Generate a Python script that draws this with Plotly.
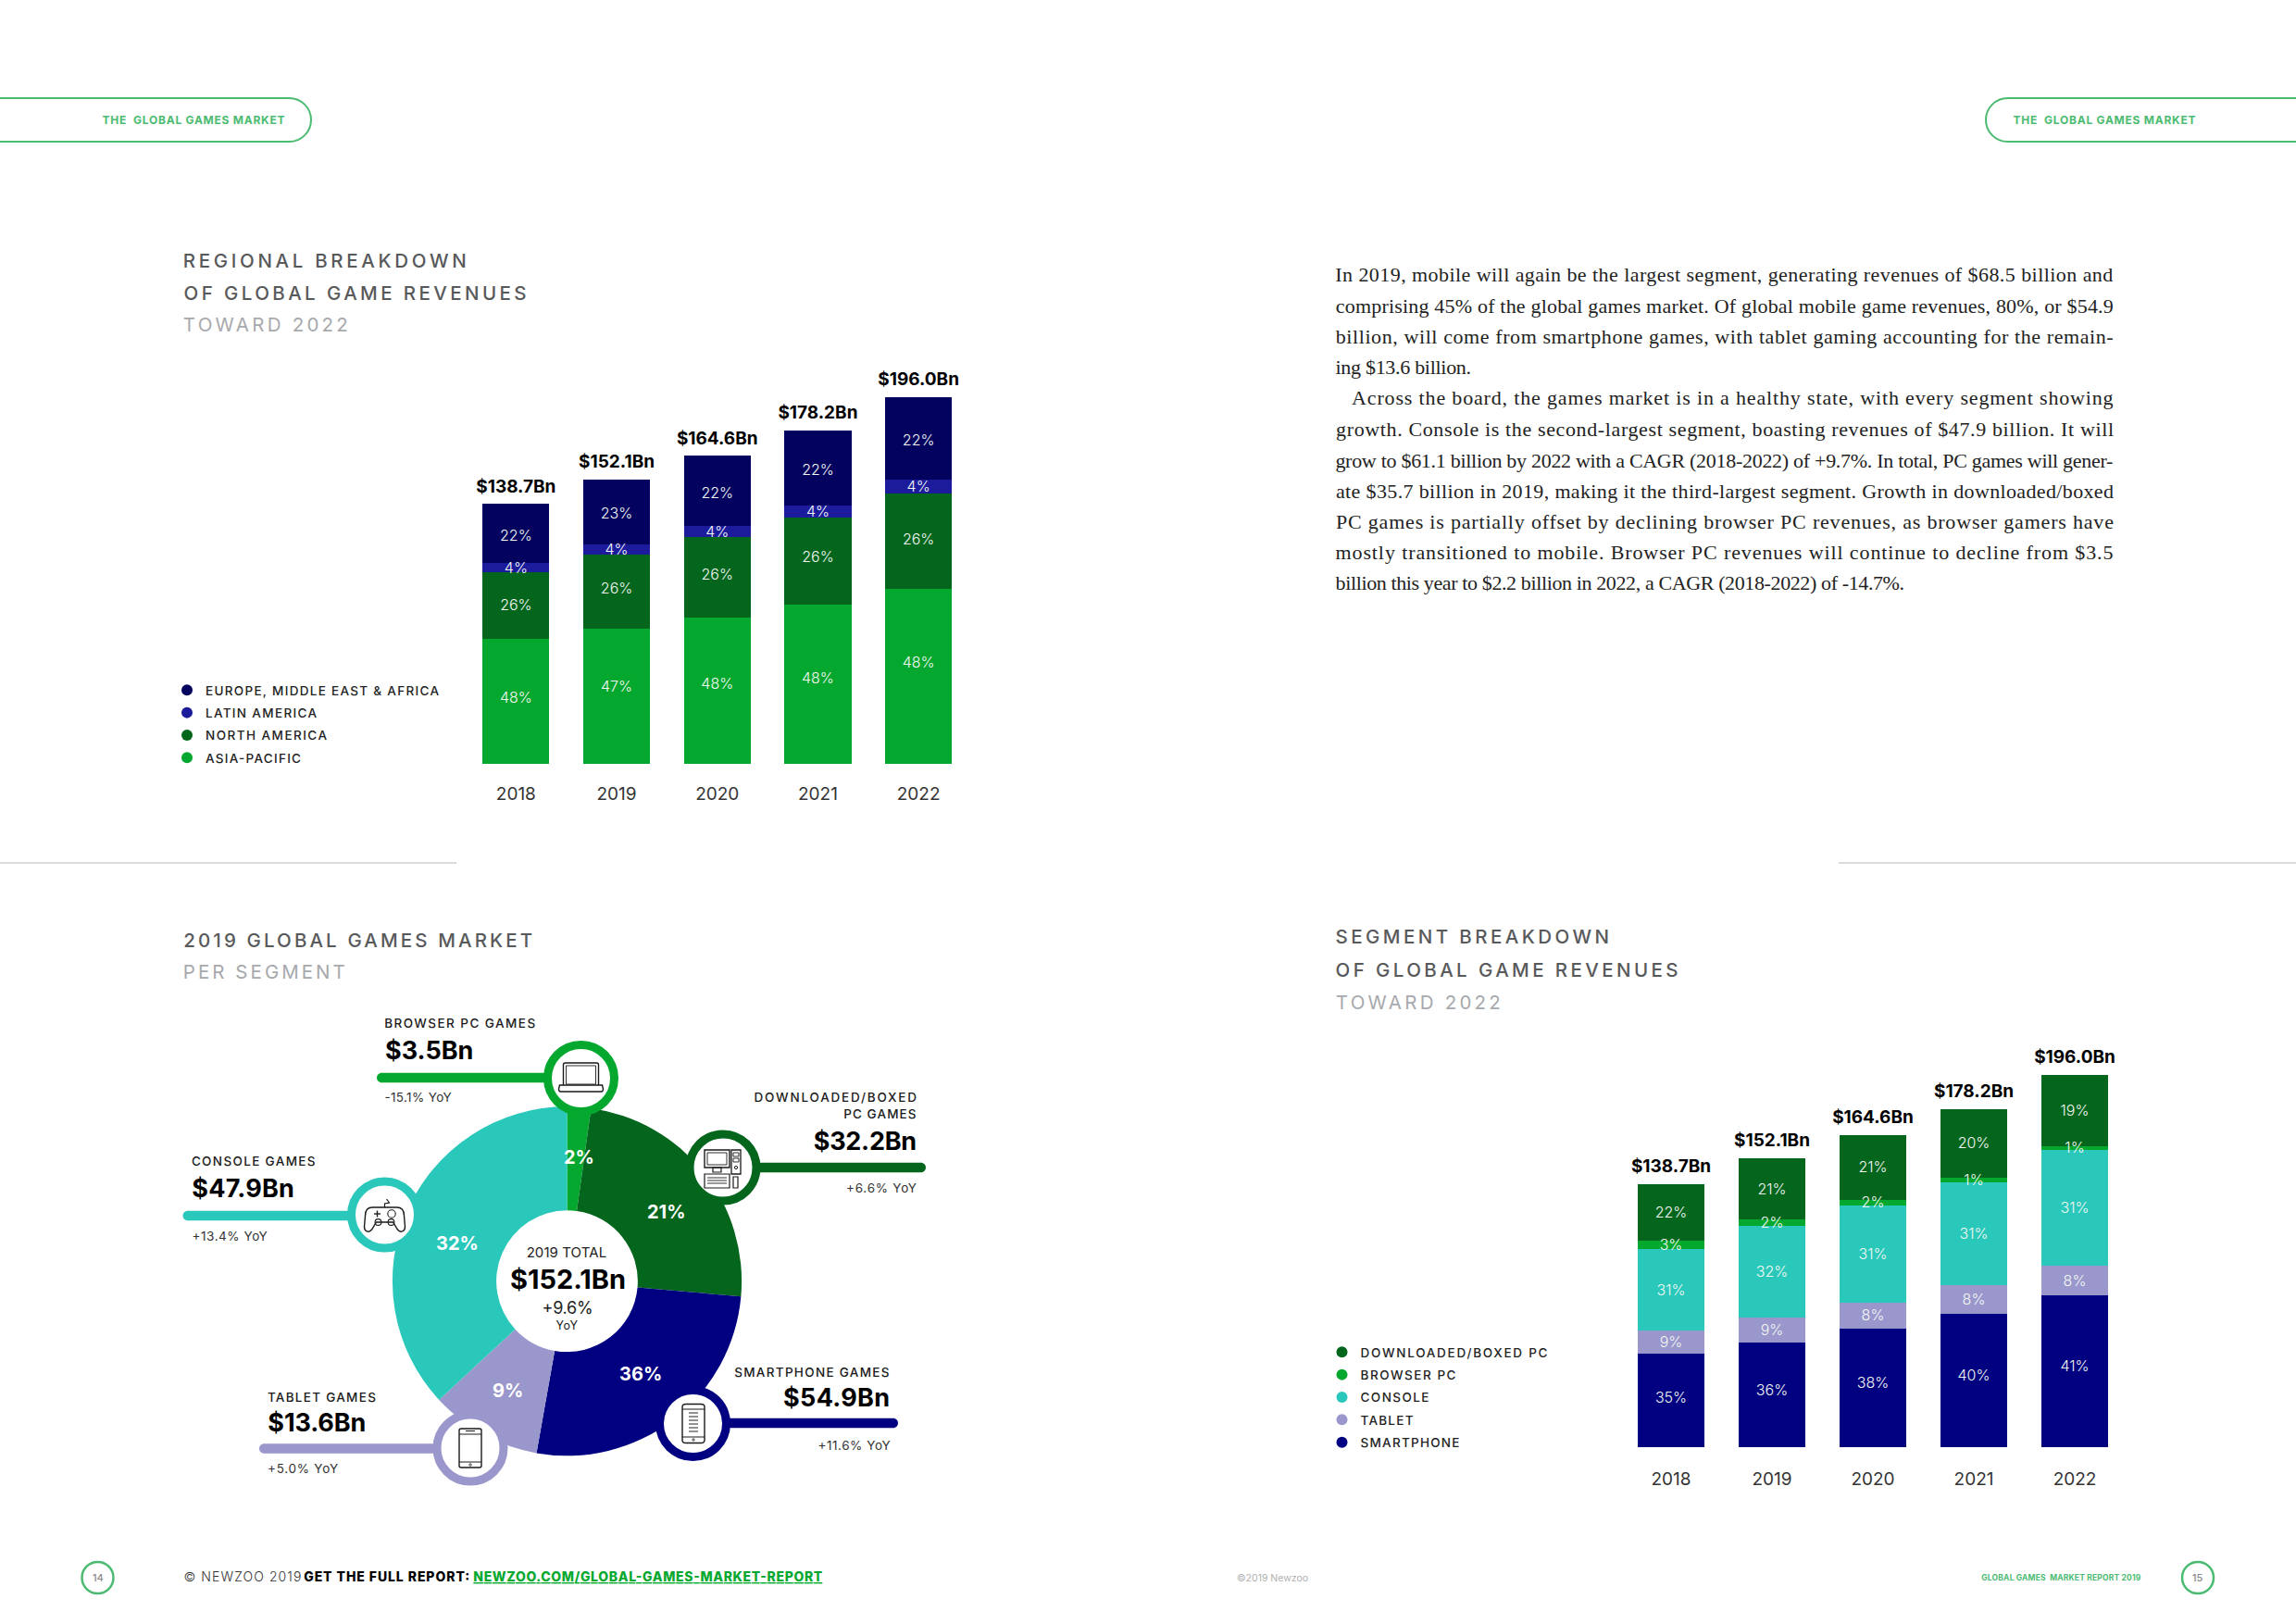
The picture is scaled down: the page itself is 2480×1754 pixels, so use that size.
import json
import re
import plotly.graph_objects as go

# ---------- data ----------
years = ["2018", "2019", "2020", "2021", "2022"]
totals = [138.7, 152.1, 164.6, 178.2, 196.0]
total_labels = ["$138.7Bn", "$152.1Bn", "$164.6Bn", "$178.2Bn", "$196.0Bn"]

reg_apac = [66.8, 72.3, 78.2, 85.1, 93.6]
reg_na = [35.6, 39.6, 43.1, 46.5, 51.0]
reg_latam = [5.0, 5.4, 5.9, 6.4, 7.4]
reg_emea = [31.7, 34.7, 37.6, 40.1, 44.1]
reg_apac_pct = ["48%", "47%", "48%", "48%", "48%"]
reg_na_pct = ["26%", "26%", "26%", "26%", "26%"]
reg_latam_pct = ["4%", "4%", "4%", "4%", "4%"]
reg_emea_pct = ["22%", "23%", "22%", "22%", "22%"]

seg_smart = [49.1, 54.9, 62.2, 70.0, 79.8]
seg_tablet = [12.5, 13.6, 14.1, 15.1, 15.6]
seg_console = [42.5, 47.9, 51.1, 54.5, 61.3]
seg_browser = [4.4, 3.5, 2.9, 2.4, 1.9]
seg_download = [30.2, 32.2, 34.0, 36.0, 37.4]
seg_smart_pct = ["35%", "36%", "38%", "40%", "41%"]
seg_tablet_pct = ["9%", "9%", "8%", "8%", "8%"]
seg_console_pct = ["31%", "32%", "31%", "31%", "31%"]
seg_browser_pct = ["3%", "2%", "2%", "1%", "1%"]
seg_download_pct = ["22%", "21%", "21%", "20%", "19%"]

pie_names = ["Browser PC", "Downloaded/Boxed PC", "Smartphone", "Tablet", "Console"]
pie_drawn_share = [2.2, 24.2, 26.4, 10.3, 36.9]

body_lines = [
    "In 2019, mobile will again be the largest segment, generating revenues of $68.5 billion and",
    "comprising 45% of the global games market. Of global mobile game revenues, 80%, or $54.9",
    "billion, will come from smartphone games, with tablet gaming accounting for the remain-",
    "ing $13.6 billion.",
    "Across the board, the games market is in a healthy state, with every segment showing",
    "growth. Console is the second-largest segment, boasting revenues of $47.9 billion. It will",
    "grow to $61.1 billion by 2022 with a CAGR (2018-2022) of +9.7%. In total, PC games will gener-",
    "ate $35.7 billion in 2019, making it the third-largest segment. Growth in downloaded/boxed",
    "PC games is partially offset by declining browser PC revenues, as browser gamers have",
    "mostly transitioned to mobile. Browser PC revenues will continue to decline from $3.5",
    "billion this year to $2.2 billion in 2022, a CAGR (2018-2022) of -14.7%.",
]

# ---------- style ----------
W, H = 2480, 1754
SANS = "Inter"
SERIF = "Liberation Serif"
NAVY_DK, BLUE, DKGREEN, GREEN = "#03035F", "#1B1B9C", "#04661D", "#05A82E"
NAVY, LILAC, TEAL = "#000080", "#9A97CC", "#2AC8BA"
HEAD, HEAD2, PILLGREEN = "#58595B", "#A7A9AC", "#4CBB72"
INK = "#1A1A1A"

def fx(x):
    return x / W

def fy(y):
    return 1 - y / H

fig = go.Figure()
annotations, shapes, fit_widths = [], [], {}

def T(text, x, y, size, color=INK, anchor="left", weight=400, family=SANS):
    annotations.append(dict(
        text=text, x=fx(x), y=fy(y), xref="paper", yref="paper", showarrow=False,
        xanchor=anchor, yanchor="middle", borderpad=0, borderwidth=0,
        font=dict(size=size, color=color, family=family, weight=weight),
    ))

def TX(text, x0, x1, y, size, color=INK, weight=400, family=SANS, plain=None):
    """Text stretched to the measured extent x0..x1."""
    T(text, (x0 + x1) / 2, y, size, color, "center", weight, family)
    fit_widths[plain or text] = round(x1 - x0, 1)

def to_paper(path, cx=0, cy=0):
    nums = iter(range(10 ** 6))
    def rep(m):
        i = next(nums)
        v = float(m.group(0))
        return f"{fx(v + cx):.6f}" if i % 2 == 0 else f"{fy(v + cy):.6f}"
    return re.sub(r"-?\d+\.?\d*", rep, path)

def P(path, cx=0, cy=0, color=None, width=0, fill=None):
    shapes.append(dict(
        type="path", path=to_paper(path, cx, cy), xref="paper", yref="paper",
        line=dict(color=color or "rgba(0,0,0,0)", width=width),
        fillcolor=fill or "rgba(0,0,0,0)",
    ))

def C(cx, cy, r, color=None, width=0, fill=None):
    shapes.append(dict(
        type="circle", x0=fx(cx - r), x1=fx(cx + r), y0=fy(cy - r), y1=fy(cy + r),
        xref="paper", yref="paper",
        line=dict(color=color or "rgba(0,0,0,0)", width=width),
        fillcolor=fill or "rgba(0,0,0,0)",
    ))

def L(x0, y0, x1, y1, color, width):
    shapes.append(dict(
        type="line", x0=fx(x0), x1=fx(x1), y0=fy(y0), y1=fy(y1),
        xref="paper", yref="paper", line=dict(color=color, width=width),
    ))

def R(x0, y0, x1, y1, color=INK, width=1.3, fill=None):
    P(f"M{x0} {y0} L{x1} {y0} L{x1} {y1} L{x0} {y1} Z", color=color, width=width, fill=fill)

def pill(x0, x1, y, h, color):
    r = h / 2
    k = r * 0.55
    P(f"M{x0 + r} {y - r} L{x1 - r} {y - r} C{x1 - r + k} {y - r} {x1} {y - k} {x1} {y} "
      f"C{x1} {y + k} {x1 - r + k} {y + r} {x1 - r} {y + r} L{x0 + r} {y + r} "
      f"C{x0 + r - k} {y + r} {x0} {y + k} {x0} {y} C{x0} {y - k} {x0 + r - k} {y - r} {x0 + r} {y - r} Z",
      fill=color)

def stacked(series, xa, ya, legend, px_per_bn):
    base = [0.0] * len(years)
    for name, vals, color, pct, shift in series:
        fig.add_trace(go.Bar(
            x=years, y=vals, marker=dict(color=color, line=dict(width=0)),
            xaxis=xa, yaxis=ya, showlegend=False, hoverinfo="skip", name=name,
        ))
        mids = [b + v / 2 + (s - 1.5) / px_per_bn for b, v, s in zip(base, vals, shift)]
        fig.add_trace(go.Scatter(
            x=years, y=mids, mode="text", text=pct, textposition="middle center",
            textfont=dict(family=SANS, size=16, color="#F2F7F3", weight=300),
            xaxis=xa, yaxis=ya, showlegend=False, hoverinfo="skip", cliponaxis=False,
        ))
        base = [b + v for b, v in zip(base, vals)]
    fig.add_trace(go.Scatter(
        x=[y for y in years], y=[t + 8 / px_per_bn for t in totals], mode="text",
        text=total_labels, textposition="top center",
        textfont=dict(family=SANS, size=19, color="#000000", weight=700),
        xaxis=xa, yaxis=ya, showlegend=False, hoverinfo="skip", cliponaxis=False,
    ))
    for name, vals, color, pct, shift in reversed(series):
        fig.add_trace(go.Scatter(
            x=[None], y=[None], mode="markers", name=name, legend=legend,
            legendgroup=legend + name, xaxis=xa, yaxis=ya,
            marker=dict(color=color, size=12, symbol="circle"), hoverinfo="skip",
        ))

# ---------- regional chart ----------
stacked([
    ("ASIA-PACIFIC", reg_apac, GREEN, reg_apac_pct, [4, 10, 8, 7, 15]),
    ("NORTH AMERICA", reg_na, DKGREEN, reg_na_pct, [1, 3, 3, 5, 2]),
    ("LATIN AMERICA", reg_latam, BLUE, reg_latam_pct, [0, 0, 0, 0, 0]),
    ("EUROPE, MIDDLE EAST & AFRICA", reg_emea, NAVY_DK, reg_emea_pct, [-2, -1, -2, -2, -2]),
], "x", "y", "legend", 2.02)

# ---------- segment chart ----------
stacked([
    ("SMARTPHONE", seg_smart, NAVY, seg_smart_pct, [3, 5, 6, 6, 6]),
    ("TABLET", seg_tablet, LILAC, seg_tablet_pct, [0, 0, 0, 0, 0]),
    ("CONSOLE", seg_console, TEAL, seg_console_pct, [0, 0, 0, 0, 0]),
    ("BROWSER PC", seg_browser, GREEN, seg_browser_pct, [0, 0, 0, 0, 0]),
    ("DOWNLOADED/BOXED PC", seg_download, DKGREEN, seg_download_pct, [0, 0, 0, 0, 0]),
], "x2", "y2", "legend2", 2.051)

# ---------- pie ----------
PCX, PCY, PR = 612.5, 1383.7, 188.6
fig.add_trace(go.Pie(
    labels=pie_names, values=pie_drawn_share, sort=False, direction="clockwise", rotation=0,
    hole=0.405, textinfo="none", hoverinfo="skip", showlegend=False,
    marker=dict(colors=[GREEN, DKGREEN, NAVY, LILAC, TEAL], line=dict(width=0)),
    domain=dict(x=[fx(PCX - PR), fx(PCX + PR)], y=[fy(PCY + PR), fy(PCY - PR)]),
))
for txt, x, y in [("2%", 625, 1250), ("21%", 720, 1308.6), ("36%", 692, 1484),
                  ("9%", 548.5, 1502), ("32%", 493.6, 1343)]:
    T(txt, x, y, 20, "#FFFFFF", "center", 700)

TX("2019 TOTAL", 569, 655.5, 1352, 15, "#222222")
T("$152.1Bn", 613, 1381, 29, "#000000", "center", 700)
TX("+9.6%", 585, 640, 1412, 18, "#222222")
TX("YoY", 600.6, 624, 1431, 12.5, "#222222")

# callouts: lines, rings, icons
pill(407, 627, 1164, 10.5, GREEN)
pill(781, 1000, 1261, 10.5, DKGREEN)
pill(197.5, 415, 1313, 10.5, TEAL)
pill(280, 508, 1564.5, 10.5, LILAC)
pill(749, 970, 1537, 10.5, NAVY)
C(627.5, 1164.5, 36, GREEN, 9, "#FFFFFF")
C(781, 1261, 36, DKGREEN, 9, "#FFFFFF")
C(415.5, 1312, 36, TEAL, 9, "#FFFFFF")
C(508, 1564, 36, LILAC, 9, "#FFFFFF")
C(748.5, 1537.5, 36, NAVY, 9, "#FFFFFF")

# laptop
P("M-19 8 L-19 -14 C-19 -16 -18 -16 -17 -16 L17 -16 C18 -16 19 -16 19 -14 L19 8", 627.5, 1164, INK, 1.4)
R(611.5, 1151, 643.5, 1171, INK, 0.9)
P("M-23 8 L23 8 L24 12 C24 14 23 15 22 15 L-22 15 C-23 15 -24 14 -24 12 Z", 627.5, 1164, INK, 1.4)
# desktop computer
R(761, 1242, 788, 1261, INK, 1.4)
R(764, 1245, 785, 1258, INK, 0.9)
R(770, 1261, 779, 1266, INK, 1.2)
R(761, 1268, 788, 1283, INK, 1.2)
for yy in (1272, 1275, 1278):
    L(764, yy, 785, yy, "#555555", 1.2)
R(790, 1242, 800, 1268, INK, 1.3)
R(792, 1245, 798, 1249, INK, 0.9)
R(792, 1251, 798, 1255, INK, 0.9)
C(795, 1261, 1.6, INK, 1)
R(792, 1271, 797, 1283, INK, 1.2)
# game pad
P("M-13 -9 L13 -9 C19 -9 21 -5 21 0 L22 12 C22 17 17 19 14 15 L9 7 L-9 7 L-14 15 "
  "C-17 19 -22 17 -22 12 L-21 0 C-21 -5 -19 -9 -13 -9 Z", 415.5, 1313, INK, 1.4)
P("M0 -9 L0 -13 L5 -14 L2 -18", 415.5, 1313, INK, 1.2)
L(404, 1311, 411, 1311, INK, 1.4)
L(407.5, 1307.5, 407.5, 1314.5, INK, 1.4)
C(423, 1311, 4.2, INK, 1.1)
C(408.5, 1320, 3.4, INK, 1.1)
C(422.5, 1320, 3.4, INK, 1.1)
# tablet
P("M-12 -19 C-12 -21 -11 -21 -10 -21 L10 -21 C11 -21 12 -21 12 -19 L12 19 C12 21 11 21 10 21 "
  "L-10 21 C-11 21 -12 21 -12 19 Z", 508, 1564, INK, 1.4)
L(496, 1549, 520, 1549, INK, 1)
L(496, 1579, 520, 1579, INK, 1)
C(508, 1582, 1.2, INK, 0.8)
L(503, 1545.5, 513, 1545.5, INK, 1)
# smartphone
P("M-12 -18 C-12 -20 -10 -21 -8 -21 L8 -21 C10 -21 12 -20 12 -18 L12 18 C12 20 10 21 8 21 "
  "L-8 21 C-10 21 -12 20 -12 18 Z", 749, 1537.5, INK, 1.4)
L(737, 1522, 761, 1522, INK, 1)
L(737, 1552, 761, 1552, INK, 1)
C(749, 1555, 1.2, INK, 0.8)
for yy in range(1526, 1550, 4):
    L(744, yy, 754, yy, "#777777", 1.6)

TX("BROWSER PC GAMES", 415.7, 578.7, 1105, 13.5, INK, 500)
TX("$3.5Bn", 415.7, 511, 1134, 27, "#000000", 700)
TX("-15.1% YoY", 415.7, 488, 1185, 13.5, "#333333")
TX("DOWNLOADED/BOXED", 814.5, 990, 1185, 13.5, INK, 500)
TX("PC GAMES", 911.6, 990, 1203, 13.5, INK, 500)
TX("$32.2Bn", 878.7, 990, 1232, 27, "#000000", 700)
TX("+6.6% YoY", 914, 990, 1283, 13.5, "#333333")
TX("CONSOLE GAMES", 207.3, 341, 1254, 13.5, INK, 500)
TX("$47.9Bn", 207.3, 318, 1283, 27, "#000000", 700)
TX("+13.4% YoY", 207.3, 288.5, 1335, 13.5, "#333333")
TX("TABLET GAMES", 289, 406, 1509, 13.5, INK, 500)
TX("$13.6Bn", 289, 395, 1536, 27, "#000000", 700)
TX("+5.0% YoY", 289, 365, 1586, 13.5, "#333333")
TX("SMARTPHONE GAMES", 793.7, 961, 1482, 13.5, INK, 500)
TX("$54.9Bn", 846, 961, 1509, 27, "#000000", 700)
TX("+11.6% YoY", 883, 961, 1561, 13.5, "#333333")

# ---------- headings ----------
TX("REGIONAL BREAKDOWN", 198, 504, 281.5, 20.5, HEAD, 500)
TX("OF GLOBAL GAME REVENUES", 198, 568, 316.5, 20.5, HEAD, 500)
TX("TOWARD 2022", 198, 376, 351, 20.5, HEAD2)
TX("2019 GLOBAL GAMES MARKET", 198, 575, 1015, 20.5, HEAD, 500)
TX("PER SEGMENT", 198, 373, 1049, 20.5, HEAD2)
TX("SEGMENT BREAKDOWN", 1442.5, 1738, 1012, 20.5, HEAD, 500)
T("OF GLOBAL GAME REVENUES", (1442.5 + 1813) / 2, 1047, 20.5, HEAD, "center", 500)
T("TOWARD 2022", (1442.5 + 1621) / 2, 1082, 20.5, HEAD2, "center")

# ---------- body text ----------
line_ys = [296, 330, 363, 397, 430, 463, 497, 530, 563, 596, 629]
line_x0 = [1442.5, 1442.5, 1442.5, 1442.5, 1460, 1442.5, 1442.5, 1442.5, 1442.5, 1442.5, 1442.5]
line_x1 = [2282.5, 2282.5, 2282.5, 1589, 2282.5, 2282.5, 2282.5, 2282.5, 2282.5, 2282.5, 2057]
for s, y, a, b in zip(body_lines, line_ys, line_x0, line_x1):
    TX(s, a, b, y, 22, "#222222", 400, SERIF)

# ---------- page furniture ----------
r = 23.5
P(f"M0 106 L{336 - r} 106 C{336 - r + 13} 106 336 {129.5 - 13} 336 129.5 "
  f"C336 {129.5 + 13} {336 - r + 13} 153 {336 - r} 153 L0 153", color=PILLGREEN, width=2)
P(f"M2480 106 L{2145 + r} 106 C{2145 + r - 13} 106 2145 {129.5 - 13} 2145 129.5 "
  f"C2145 {129.5 + 13} {2145 + r - 13} 153 {2145 + r} 153 L2480 153", color=PILLGREEN, width=2)
TX("THE\u00a0 GLOBAL GAMES MARKET", 110, 307, 130, 12, PILLGREEN, 700)
annotations.append(dict(annotations[-1], x=fx((2175 + 2370) / 2)))
L(0, 932, 493, 932, "#B5B5B5", 1)
L(1986, 932, 2480, 932, "#B5B5B5", 1)

C(105.5, 1704, 17, PILLGREEN, 2.5)
T("14", 105.5, 1704, 11, "#8A8A8A", "center", 500)
C(2374, 1704, 17, PILLGREEN, 2.5)
T("15", 2374, 1704, 11, "#8A8A8A", "center", 500)
TX("© NEWZOO 2019", 198, 325, 1702, 14, "#333333", 300)
TX("GET THE FULL REPORT:", 328, 507, 1702, 14, "#000000", 800)
TX("<u>NEWZOO.COM/GLOBAL-GAMES-MARKET-REPORT</u>", 511, 888, 1702, 14, GREEN, 800,
   plain="NEWZOO.COM/GLOBAL-GAMES-MARKET-REPORT")
T("©2019 Newzoo", 1374, 1704, 10.5, "#B0B0B0", "center")
TX("GLOBAL GAMES\u00a0 MARKET REPORT 2019", 2140, 2312, 1704, 8.5, PILLGREEN, 700)

# ---------- layout ----------
def axis_pair(x0, x1, ybase, ytop, px_per_bn, standoff):
    xa = dict(domain=[fx(x0), fx(x1)], type="category", categoryorder="array", categoryarray=years,
              range=[-0.5, 4.5], showgrid=False, zeroline=False, showline=False, ticks="",
              ticklabelstandoff=standoff,
              tickfont=dict(family=SANS, size=19, color="#333333", weight=400))
    ya = dict(domain=[fy(ybase), fy(ytop)], range=[0, (ybase - ytop) / px_per_bn], visible=False,
              showgrid=False, zeroline=False)
    return xa, ya

xa1, ya1 = axis_pair(503, 1046.5, 825, 400, 2.02, 19)
xa2, ya2 = axis_pair(1750.5, 2295.5, 1563, 1130, 2.051, 21)
xa1["anchor"], ya1["anchor"] = "y", "x"
xa2["anchor"], ya2["anchor"] = "y2", "x2"

legend_font = dict(family=SANS, size=13.5, color="#222222", weight=500)
fig.update_layout(
    width=W, height=H, autosize=False, margin=dict(l=0, r=0, t=0, b=0),
    paper_bgcolor="#FFFFFF", plot_bgcolor="#FFFFFF", barmode="stack", bargap=0.335,
    hovermode=False, xaxis=xa1, yaxis=ya1, xaxis2=xa2, yaxis2=ya2,
    annotations=annotations, shapes=shapes,
    legend=dict(x=fx(182), y=fy(730), xanchor="left", yanchor="top", font=legend_font,
                traceorder="grouped", tracegroupgap=3.8, bgcolor="rgba(0,0,0,0)", itemclick=False),
    legend2=dict(x=fx(1429.5), y=fy(1445), xanchor="left", yanchor="top", font=legend_font,
                 traceorder="grouped", tracegroupgap=3.8, bgcolor="rgba(0,0,0,0)", itemclick=False),
)

legend_widths = {
    "EUROPE, MIDDLE EAST & AFRICA": 252, "LATIN AMERICA": 120, "NORTH AMERICA": 131, "ASIA-PACIFIC": 103,
    "DOWNLOADED/BOXED PC": 202, "BROWSER PC": 103, "CONSOLE": 74, "TABLET": 57, "SMARTPHONE": 107,
}
post = ("document.body.style.margin='0';var W=" + json.dumps(fit_widths) + ",LW=" + json.dumps(legend_widths) +
        ";function fit(sel,M){document.querySelectorAll(sel).forEach(function(t){var w=M[t.textContent];"
        "if(w){t.setAttribute('textLength',w);t.setAttribute('lengthAdjust','spacing');}});}"
        "fit('text.annotation-text',W);fit('text.legendtext',LW);fit('text.legend2text',LW);"
        "document.querySelectorAll('.legend .scrollbox,.legend2 .scrollbox').forEach(function(s){s.removeAttribute('clip-path');});")

fig.write_html("out.html", config={"displayModeBar": False}, post_script=post)
